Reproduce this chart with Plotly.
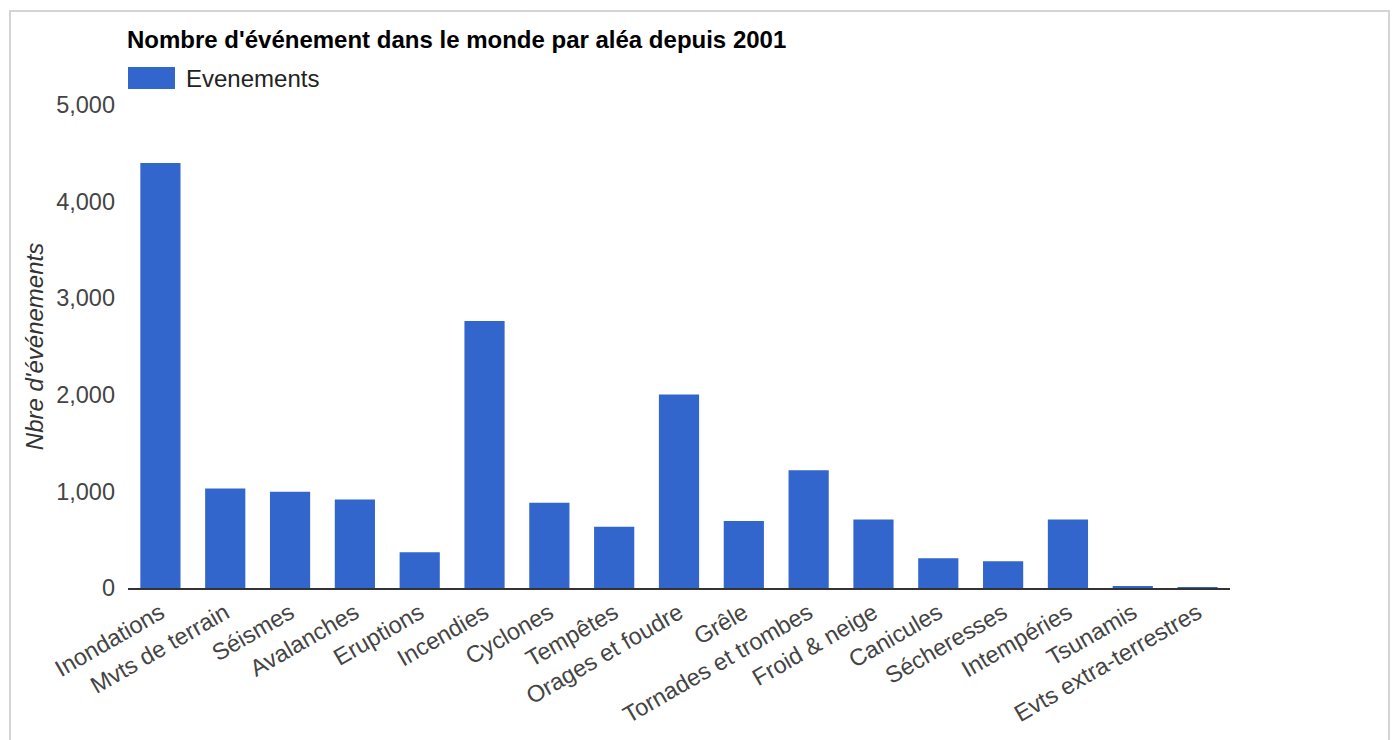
import plotly.graph_objects as go

categories = ["Inondations", "Mvts de terrain", "Séismes", "Avalanches", "Eruptions",
              "Incendies", "Cyclones", "Tempêtes", "Orages et foudre", "Grêle",
              "Tornades et trombes", "Froid & neige", "Canicules", "Sécheresses",
              "Intempéries", "Tsunamis", "Evts extra-terrestres"]
evenements = [4400, 1031, 996, 917, 369, 2764, 882, 634, 2003, 693, 1220, 710, 308, 276, 710, 15, 6]
y_ticks = [0, 1000, 2000, 3000, 4000, 5000]

W, H = 1394, 740
L, R, T, B = 128, 164, 105, 152
pw, ph = W - L - R, H - T - B
FONT = "Arial, Liberation Sans, sans-serif"
BLUE = "#3366CC"

def px(x):
    return (x - L) / pw

def py(y):
    return (H - B - y) / ph

fig = go.Figure(go.Bar(x=categories, y=evenements, marker=dict(color=BLUE, line=dict(width=0)),
                       name="Evenements", width=0.62, showlegend=False))

fig.update_layout(
    width=W, height=H,
    margin=dict(l=L, r=R, t=T, b=B),
    paper_bgcolor="white", plot_bgcolor="white",
    font=dict(family=FONT, size=23.5, color="#444444"),
    title=dict(text="<b>Nombre d'événement dans le monde par aléa depuis 2001</b>",
               xref="container", yref="container", x=127 / W, y=1 - 40 / H,
               xanchor="left", yanchor="middle",
               font=dict(family=FONT, size=24, color="#000000")),
    xaxis=dict(showgrid=False, showline=True, linecolor="#333333", linewidth=2,
               tickangle=-30, ticks="", tickfont=dict(size=23.5, color="#444444"),
               range=[-0.5, len(categories) - 0.5]),
    yaxis=dict(range=[0, 5000], tickvals=y_ticks, tickformat=",d", showgrid=False,
               zeroline=False, showline=False, ticks="", ticklabelstandoff=12,
               tickfont=dict(size=23.5, color="#444444"),
               title=dict(text="Nbre d'événements", standoff=5,
                          font=dict(size=24, color="#333333", style="italic"))),
    shapes=[
        dict(type="rect", xref="paper", yref="paper", x0=px(10), x1=px(1389), y0=py(800), y1=py(11),
             line=dict(color="#d4d4d4", width=2), fillcolor="rgba(0,0,0,0)", layer="below"),
        dict(type="rect", xref="paper", yref="paper", x0=px(128), x1=px(175), y0=py(89), y1=py(67),
             line=dict(width=0), fillcolor=BLUE),
    ],
    annotations=[
        dict(text="Evenements", xref="paper", yref="paper", x=px(184), y=py(78),
             xanchor="left", yanchor="middle", showarrow=False,
             font=dict(family=FONT, size=24, color="#222222")),
    ],
)

fig.write_html("out.html")
